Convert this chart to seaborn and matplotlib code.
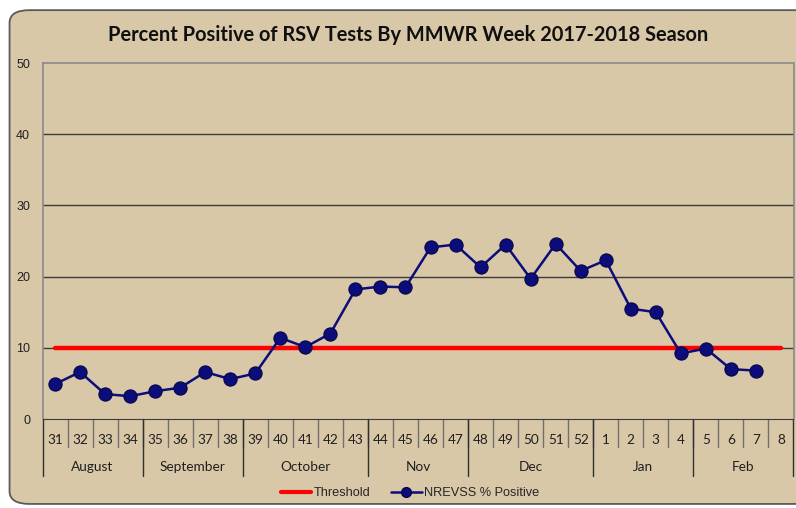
import pandas as pd
import seaborn as sns
import matplotlib.pyplot as plt
from matplotlib.patches import FancyBboxPatch
from matplotlib.lines import Line2D

weeks = ['31', '32', '33', '34', '35', '36', '37', '38', '39', '40', '41', '42', '43',
         '44', '45', '46', '47', '48', '49', '50', '51', '52', '1', '2', '3', '4',
         '5', '6', '7', '8']
pct_positive = [4.9, 6.6, 3.5, 3.2, 3.9, 4.4, 6.6, 5.6, 6.4, 11.4, 10.1, 12.0, 18.2,
                18.6, 18.5, 24.1, 24.5, 21.3, 24.5, 19.7, 24.6, 20.8, 22.3, 15.5, 15.0,
                9.2, 9.9, 7.0, 6.8, None]
threshold = [10] * len(weeks)
months = ['August', 'September', 'October', 'Nov', 'Dec', 'Jan', 'Feb']
month_len = [4, 4, 5, 4, 5, 4, 4]

tan = '#D8C8A8'
navy = '#0C0C7A'

df = pd.DataFrame({'pos': range(len(weeks)), 'pct': pct_positive, 'thr': threshold})

sns.set_style('white')
plt.rcParams['font.family'] = ['Liberation Sans', 'DejaVu Sans']

fig = plt.figure(figsize=(7.96, 5.08), dpi=100)
fig.patch.set_facecolor('white')
# rounded chart frame
frame = FancyBboxPatch((0.012, 0.008), 1.1, 0.972, boxstyle='round,pad=0,rounding_size=0.025',
                       transform=fig.transFigure, facecolor=tan, edgecolor='#5A5A5A',
                       linewidth=1.3, zorder=-10)
fig.patches.append(frame)

ax = fig.add_axes([42.5 / 796, 1 - 419 / 508, 751 / 796, 356 / 508])
ax.set_facecolor(tan)

sns.lineplot(data=df, x='pos', y='thr', ax=ax, color='#FF0000', linewidth=3.2, zorder=3)
sns.lineplot(data=df.dropna(), x='pos', y='pct', ax=ax, color=navy, linewidth=1.8,
             marker='o', markersize=9.5, markeredgecolor='#05054A', markeredgewidth=0.8, zorder=4)

ax.set_xlim(-0.5, len(weeks) - 0.5)
ax.set_ylim(0, 50)
ax.set_yticks(range(0, 51, 10))
for v in range(10, 50, 10):
    ax.axhline(v, color='#3C3C3C', linewidth=1, zorder=1)
for s in ['left', 'top', 'right']:
    ax.spines[s].set_color('#8A8A8A')
    ax.spines[s].set_linewidth(1.2)
ax.spines['bottom'].set_color('#3C3C3C')
ax.tick_params(axis='y', length=0, pad=9, labelsize=9, colors='#202020')
ax.set_xticks([])
ax.set_xlabel('')
ax.set_ylabel('')

# week labels and separators below the axis
trans = ax.get_xaxis_transform()
for i, w in enumerate(weeks):
    ax.text(i, -0.058, w, transform=trans, ha='center', va='center', fontsize=9.8,
            family=['Lato', 'DejaVu Sans'], color='#202020')
for i in range(1, len(weeks)):
    ax.plot([i - 0.5, i - 0.5], [0, -0.08], transform=trans, color='#707070',
            linewidth=1, clip_on=False)
start = 0
for name, n in zip(months, month_len):
    ax.plot([start - 0.5, start - 0.5], [0, -0.161], transform=trans, color='#303030',
            linewidth=1, clip_on=False)
    ax.text(start + n / 2 - 0.5, -0.135, name, transform=trans, ha='center', va='center',
            fontsize=9.8, family=['Lato', 'DejaVu Sans'], color='#202020')
    start += n
ax.plot([start - 0.5, start - 0.5], [0, -0.161], transform=trans, color='#303030',
        linewidth=1, clip_on=False)

fig.text(408 / 796, 1 - 35 / 508, 'Percent Positive of RSV Tests By MMWR Week 2017-2018 Season',
         ha='center', va='center', fontsize=14.4, fontweight='bold',
         family=['Lato', 'DejaVu Sans'], color='#101010')

handles = [Line2D([], [], color='#FF0000', linewidth=3),
           Line2D([], [], color=navy, linewidth=1.8, marker='o', markersize=7,
                  markeredgecolor='#05054A')]
fig.legend(handles, ['Threshold', 'NREVSS % Positive'], loc='center',
           bbox_to_anchor=(410 / 796, 1 - 493 / 508), ncol=2, frameon=False,
           fontsize=9.2, handlelength=2.4, handletextpad=0.2, columnspacing=1.6)

fig.savefig('out.png', dpi=100, facecolor=fig.get_facecolor())
